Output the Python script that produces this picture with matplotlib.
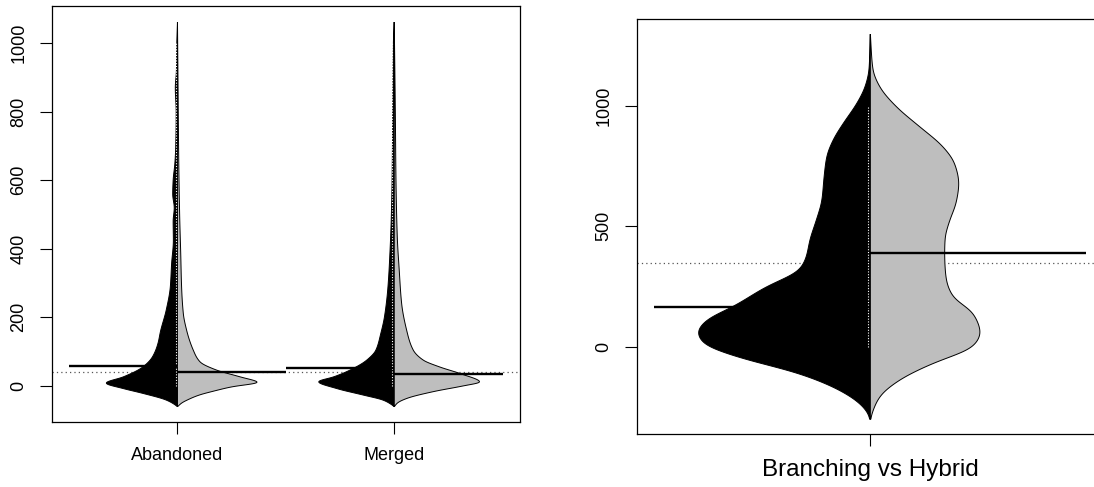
import numpy as np
import matplotlib
matplotlib.use("Agg")
import matplotlib.pyplot as plt

plt.rcParams["font.family"] = ["Liberation Sans", "DejaVu Sans"]

GREY = "#BEBEBE"

# left panel: outcome groups, each bean split in two halves (black | grey)
groups = ["Abandoned", "Merged"]

aband_black_y = [-61, -56, -42, -22, -8, 8, 26, 55, 85, 124, 160, 221, 289, 357, 425, 480, 520, 560,
                 600, 650, 700, 800, 870, 920, 1000, 1062]
aband_black_w = [0, 0.01, 0.05, 0.16, 0.25, 0.33, 0.25, 0.16, 0.115, 0.09, 0.078, 0.052, 0.033, 0.027,
                 0.019, 0.02, 0.015, 0.022, 0.02, 0.012, 0.008, 0.006, 0.01, 0.005, 0.003, 0]
aband_grey_y = [-61, -50, -40, -27, -15, -3, 10, 26, 46, 70, 104, 163, 211, 289, 386, 500, 650, 850, 1062]
aband_grey_w = [0, 0.02, 0.05, 0.10, 0.17, 0.25, 0.37, 0.29, 0.18, 0.104, 0.073, 0.042, 0.027, 0.019,
                0.015, 0.01, 0.006, 0.003, 0]

merged_black_y = [-61, -56, -42, -27, -8, 12, 26, 46, 75, 104, 153, 202, 289, 387, 484, 600, 800, 1000, 1062]
merged_black_w = [0, 0.01, 0.05, 0.143, 0.265, 0.35, 0.28, 0.204, 0.127, 0.085, 0.062, 0.045, 0.029, 0.02,
                  0.014, 0.01, 0.007, 0.004, 0]
merged_grey_y = [-61, -50, -37, -17, 0, 11, 36, 55, 75, 104, 163, 241, 338, 435, 600, 800, 1062]
merged_grey_w = [0, 0.015, 0.057, 0.18, 0.32, 0.395, 0.303, 0.21, 0.134, 0.088, 0.057, 0.034, 0.023,
                 0.014, 0.008, 0.005, 0]

left_means_black = [57.5, 51]
left_means_grey = [40, 34]
left_overall = 41

# right panel: single split bean
branch_y = [-302, -277, -235, -180, -111, -42, 14, 60, 111, 166, 249, 319, 374, 443, 526, 609, 706, 789,
            859, 928, 1011, 1080, 1150, 1298]
branch_w = [0, 0.005, 0.025, 0.072, 0.166, 0.309, 0.387, 0.40, 0.379, 0.318, 0.241, 0.164, 0.148, 0.14,
            0.125, 0.112, 0.107, 0.101, 0.086, 0.0625, 0.031, 0.012, 0.003, 0]
hybrid_y = [-302, -277, -208, -138, -69, 0, 56, 139, 208, 277, 330, 388, 450, 520, 600, 679, 762, 831, 914,
            997, 1080, 1150, 1298]
hybrid_w = [0, 0.004, 0.0215, 0.068, 0.145, 0.238, 0.255, 0.238, 0.191, 0.176, 0.173, 0.172, 0.173, 0.183,
            0.199, 0.205, 0.195, 0.168, 0.114, 0.060, 0.0215, 0.006, 0]
right_mean_black = 166
right_mean_grey = 390
right_overall = 346

rug_lo, rug_hi = 0, 1000


def pchip(x, y, xn):
    x, y = np.asarray(x, float), np.asarray(y, float)
    h = np.diff(x)
    d = np.diff(y) / h
    m = np.zeros_like(y)
    for k in range(1, len(x) - 1):
        if d[k - 1] * d[k] > 0:
            w1, w2 = 2 * h[k] + h[k - 1], h[k] + 2 * h[k - 1]
            m[k] = (w1 + w2) / (w1 / d[k - 1] + w2 / d[k])
    m[0], m[-1] = d[0], d[-1]
    i = np.clip(np.searchsorted(x, xn) - 1, 0, len(h) - 1)
    t = (xn - x[i]) / h[i]
    return ((2 * t**3 - 3 * t**2 + 1) * y[i] + (t**3 - 2 * t**2 + t) * h[i] * m[i]
            + (-2 * t**3 + 3 * t**2) * y[i + 1] + (t**3 - t**2) * h[i] * m[i + 1])


def half(ax, c, ys, ws, side, color, sigma):
    yy = np.linspace(ys[0], ys[-1], 1200)
    ww = np.clip(pchip(ys, ws, yy), 0, None)
    if sigma:
        # soften the knot corners a little
        step = yy[1] - yy[0]
        k = np.arange(-4 * sigma, 4 * sigma + step, step)
        g = np.exp(-0.5 * (k / sigma) ** 2)
        g /= g.sum()
        ww = np.convolve(np.pad(ww, len(k) // 2, mode="edge"), g, mode="same")[len(k) // 2:-(len(k) // 2)]
        ww[0] = ww[-1] = 0
    xx = c + side * ww
    ax.fill(np.r_[c, xx, c], np.r_[yy[0], yy, yy[-1]], facecolor=color, edgecolor="black",
            lw=0.7, zorder=2)


def bean(ax, c, by, bw, gy, gw, mb, mg, sigma=0):
    half(ax, c, by, bw, -1, "black", sigma)
    half(ax, c, gy, gw, +1, GREY, sigma)
    ax.vlines(c - 0.004 * (ax.get_xlim()[1] - ax.get_xlim()[0]), rug_lo, rug_hi, colors="white",
              linestyles=(0, (1, 1.5)), lw=0.8, zorder=3)
    ax.hlines(mb, c - 0.5, c, colors="black", lw=1.7, zorder=4)
    ax.hlines(mg, c, c + 0.5, colors="black", lw=1.7, zorder=4)


def style(ax):
    for s in ax.spines.values():
        s.set_linewidth(0.9)
    ax.tick_params(length=8.5, width=0.8, pad=9, labelsize=13)
    for t in ax.get_yticklabels():
        t.set_rotation(90)
        t.set_va("center")


fig = plt.figure(figsize=(10.94, 4.87), dpi=100)

# left: abandoned vs merged
ax1 = fig.add_axes([0.0473, 0.1329, 0.4280, 0.8540])
ax1.set_xlim(0.42, 2.58)
ax1.set_ylim(-106.9, 1107.8)
ax1.axhline(left_overall, color="#555555", ls=(0, (1, 2.5)), lw=0.9, zorder=1)
bean(ax1, 1, aband_black_y, aband_black_w, aband_grey_y, aband_grey_w,
     left_means_black[0], left_means_grey[0], sigma=2)
bean(ax1, 2, merged_black_y, merged_black_w, merged_grey_y, merged_grey_w,
     left_means_black[1], left_means_grey[1], sigma=2)
ax1.set_xticks([1, 2], groups)
ax1.set_yticks(range(0, 1001, 200))
style(ax1)

# right: branching vs hybrid
ax2 = fig.add_axes([0.5823, 0.1082, 0.4265, 0.8530])
ax2.set_xlim(0.46, 1.54)
ax2.set_ylim(-364, 1361.5)
ax2.axhline(right_overall, color="#555555", ls=(0, (1, 2.5)), lw=0.9, zorder=1)
bean(ax2, 1, branch_y, branch_w, hybrid_y, hybrid_w, right_mean_black, right_mean_grey, sigma=18)
ax2.set_xticks([1], ["Branching vs Hybrid"])
ax2.set_yticks([0, 500, 1000])
style(ax2)
ax2.tick_params(axis="x", labelsize=17.5)

fig.savefig("out.png", dpi=100)
